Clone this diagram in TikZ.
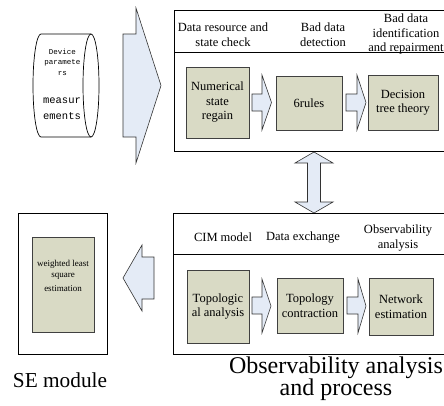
\documentclass[tikz,border=0pt]{standalone}
\usepackage{fontspec}
\setmainfont{Liberation Serif}
\newfontfamily\monof{Liberation Mono}
\definecolor{boxfill}{RGB}{217,218,197}
\definecolor{arrfill}{RGB}{228,235,246}
\newcommand\fsz[2]{\fontsize{#1}{#2}\selectfont}
\begin{document}
\begin{tikzpicture}[x=1pt,y=-1pt,
  outerbox/.style={draw=black, line width=0.8pt, fill=none, inner sep=0, anchor=north west},
  gbox/.style={draw=black!75, line width=0.7pt, fill=boxfill, align=center, inner sep=0, font=\fsz{12.5}{14.5}},
  hdr/.style={align=center, inner sep=0, font=\fsz{12.5}{14.5}},
  barrow/.style={draw=black!80, line width=0.6pt, fill=arrfill, line join=miter},
  title/.style={align=center, inner sep=0, font=\fsz{24}{22}}]
\useasboundingbox (0,0) rectangle (444,405);
\clip (0,0) rectangle (444,405);

% cylinder (device parameters / measurements)
\draw[line width=0.7pt, fill=white] (91,34) -- (41,34)
  arc[start angle=90, end angle=270, x radius=8pt, y radius=51.5pt] -- (91,137);
\draw[line width=0.7pt, fill=white] (91,85.5) ellipse [x radius=8pt, y radius=51.5pt];
\node[align=center, inner sep=0, font=\monof\fsz{7.5}{10.5}] (dev) at (62.5,62) {Device\\paramete\\rs};
\node[align=center, inner sep=0, font=\monof\fsz{10.5}{16}] (meas) at (62,109) {measur\\ements};

% big arrow
\draw[barrow] (123,34) -- (136,34) -- (136,8) -- (161,85.5) -- (136,163) -- (136,137) -- (123,137) -- cycle;

% top box
\node[outerbox, minimum width=290, minimum height=141] (topbox) at (174,10) {};
\draw[line width=0.8pt] (topbox.north west |- 0,52) -- (460,52);
\node[hdr] (h1) at (223,34.5) {Data resource and\\state check};
\node[hdr] (h2) at (323,34.5) {Bad data\\detection};
\node[hdr] (h3) at (406,34) {Bad data\\identification\\and repairment};

\node[gbox, minimum width=63, minimum height=71] (num) at (217.5,102.5) {Numerical\\state\\regain};
\node[gbox, minimum width=66, minimum height=54] (rules) at (309,103) {6rules};
\node[gbox, minimum width=70, minimum height=55] (dec) at (403,102.5) {Decision\\tree theory};

\draw[barrow] (252,94) -- (262,94) -- (262,75) -- (271.5,102.5) -- (262,130) -- (262,111) -- (252,111) -- cycle;
\draw[barrow] (346,94) -- (357,94) -- (357,75) -- (366,102.5) -- (357,130) -- (357,111) -- (346,111) -- cycle;

% vertical double arrow
\draw[barrow] (314,152) -- (333,163) -- (320.5,163) -- (320.5,202) -- (333,202) -- (314,213) -- (295,202) -- (307.5,202) -- (307.5,163) -- (295,163) -- cycle;

% bottom box
\node[outerbox, minimum width=290, minimum height=141] (botbox) at (173,213) {};
\draw[line width=0.8pt] (173,254) -- (460,254);
\node[hdr] (h4) at (223,237) {CIM model};
\node[hdr] (h5) at (303,238) {Data exchange};
\node[hdr] (h6) at (398,238) {Observability\\analysis};

\node[gbox, minimum width=62, minimum height=73] (topo) at (218,306.5) {Topologic\\al analysis};
\node[gbox, minimum width=66, minimum height=55] (contr) at (310,305.5) {Topology\\contraction};
\node[gbox, minimum width=64, minimum height=57] (net) at (401,306.5) {Network\\estimation};

\draw[barrow] (252,297) -- (262,297) -- (262,279) -- (271,306) -- (262,333) -- (262,314) -- (252,314) -- cycle;
\draw[barrow] (347,297) -- (358,297) -- (358,279) -- (366,306) -- (358,333) -- (358,314) -- (347,314) -- cycle;

\node[title] (t1) at (336,379) {Observability analysis\\and process};

% left arrow
\draw[barrow] (123,278) -- (142,245) -- (142,257) -- (154,257) -- (154,299) -- (142,299) -- (142,311) -- cycle;

% SE module
\node[outerbox, minimum width=89, minimum height=141] (sebox) at (18,213) {};
\node[draw=black!75, line width=0.7pt, fill=boxfill, inner sep=0, minimum width=62, minimum height=95] (wls) at (63,284.5) {};
\node[inner sep=0, font=\fsz{9}{11}, align=center] (wlst) at (63,270) {weighted least\\square};
\node[inner sep=0, font=\fsz{9}{11}] (wlse) at (63,288.5) {estimation};
\node[inner sep=0, font=\fsz{21.3}{24}] (se) at (60,380) {SE module};
\end{tikzpicture}
\end{document}
